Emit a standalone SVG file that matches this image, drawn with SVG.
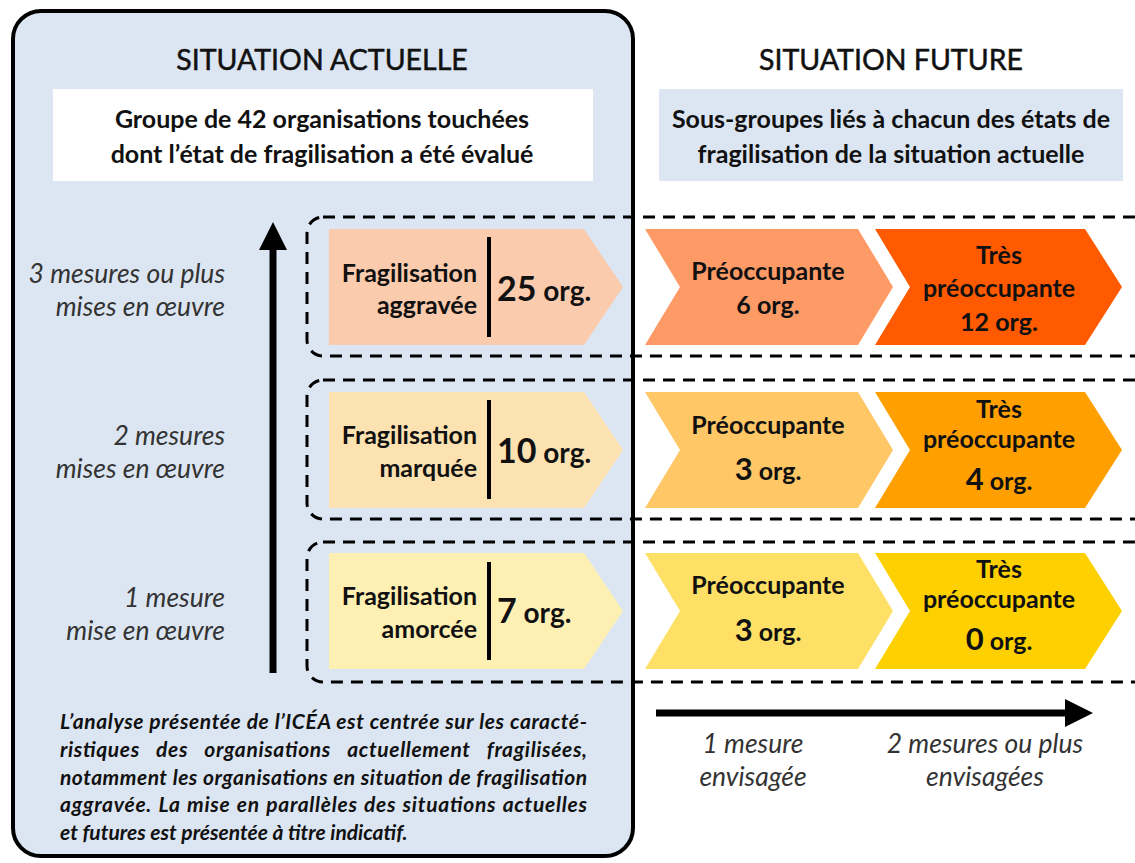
<svg xmlns="http://www.w3.org/2000/svg" width="1135" height="863" viewBox="0 0 1135 863">
<style>
.t{font-family:Lato,"Open Sans","Liberation Sans",sans-serif;fill:#111}
.h{font-size:28.5px;stroke:#111;stroke-width:0.5}
.s{font-size:25px;font-weight:bold}
.n{font-size:25px;font-weight:bold}
.o{font-size:28px}
.big{font-size:34px}
.m{font-size:31px}
.lab{font-size:26.5px;font-style:italic;fill:#333}
.para{font-size:21px;font-style:italic;font-weight:bold}
.dash{fill:none;stroke:#000;stroke-width:3;stroke-dasharray:12 8}
.bar{stroke:#000;stroke-width:4}
</style>
<defs>
<marker id="ah" markerWidth="4" markerHeight="4" refX="1" refY="2" orient="auto" markerUnits="strokeWidth">
<path d="M0,0 L4,2 L0,4 Z" fill="#000"/>
</marker>
</defs>
<rect width="1135" height="863" fill="#fff"/>
<g id="panel-actuelle">
<rect x="13" y="11" width="620" height="845" rx="28" fill="#DCE6F2" stroke="#000" stroke-width="4"/>
<text class="t h" x="322" y="70" text-anchor="middle">SITUATION ACTUELLE</text>
<rect x="53" y="89" width="540" height="92" fill="#fff"/>
<text class="t s" x="322" y="128" text-anchor="middle">Groupe de 42 organisations touchées</text>
<text class="t s" x="322" y="163" text-anchor="middle">dont l’état de fragilisation a été évalué</text>
</g>
<g id="panel-future">
<text class="t h" x="891" y="70" text-anchor="middle">SITUATION FUTURE</text>
<rect x="659" y="89" width="464" height="92" fill="#DCE6F2"/>
<text class="t s" x="891" y="128" text-anchor="middle">Sous-groupes liés à chacun des états de</text>
<text class="t s" x="891" y="163" text-anchor="middle">fragilisation de la situation actuelle</text>
</g>
<g id="groups">
<rect class="dash" x="307" y="217" width="843" height="139" rx="16"/>
<rect class="dash" x="307" y="380" width="843" height="139" rx="16"/>
<rect class="dash" x="307" y="542" width="843" height="140" rx="16"/>
</g>
<g id="connectors">
<line x1="273" y1="673" x2="273" y2="243" stroke="#000" stroke-width="7" marker-end="url(#ah)"/>
<line x1="656" y1="713" x2="1072" y2="713" stroke="#000" stroke-width="7" marker-end="url(#ah)"/>
</g>
<g id="axis-labels">
<text class="t lab" x="225" y="283" text-anchor="end">3 mesures ou plus</text>
<text class="t lab" x="225" y="316" text-anchor="end">mises en œuvre</text>
<text class="t lab" x="225" y="445" text-anchor="end">2 mesures</text>
<text class="t lab" x="225" y="478" text-anchor="end">mises en œuvre</text>
<text class="t lab" x="225" y="607" text-anchor="end">1 mesure</text>
<text class="t lab" x="225" y="640" text-anchor="end">mise en œuvre</text>
<text class="t lab" x="753" y="753" text-anchor="middle">1 mesure</text>
<text class="t lab" x="753" y="786" text-anchor="middle">envisagée</text>
<text class="t lab" x="985" y="753" text-anchor="middle">2 mesures ou plus</text>
<text class="t lab" x="985" y="786" text-anchor="middle">envisagées</text>
</g>
<g id="actuel-aggravee">
<polygon points="329,229 584,229 623,287 584,345 329,345" fill="#FBCBAD"/>
<line class="bar" x1="489" y1="237" x2="489" y2="337"/>
<text class="t n" x="477" y="282" text-anchor="end">Fragilisation</text>
<text class="t n" x="477" y="314" text-anchor="end">aggravée</text>
<text class="t n o" x="497" y="301"><tspan class="big">25</tspan> org.</text>
</g>
<g id="actuel-marquee">
<polygon points="329,392 584,392 623,450 584,508 329,508" fill="#FDE2B1"/>
<line class="bar" x1="489" y1="400" x2="489" y2="499"/>
<text class="t n" x="477" y="444" text-anchor="end">Fragilisation</text>
<text class="t n" x="477" y="477" text-anchor="end">marquée</text>
<text class="t n o" x="497" y="463"><tspan class="big">10</tspan> org.</text>
</g>
<g id="actuel-amorcee">
<polygon points="329,553 584,553 623,611 584,669 329,669" fill="#FEF0B3"/>
<line class="bar" x1="489" y1="562" x2="489" y2="660"/>
<text class="t n" x="477" y="605" text-anchor="end">Fragilisation</text>
<text class="t n" x="477" y="638" text-anchor="end">amorcée</text>
<text class="t n o" x="497" y="623"><tspan class="big">7</tspan> org.</text>
</g>
<g id="futur-1-preoc">
<polygon points="645,229 858,229 893,287 858,345 645,345 680,287" fill="#FD9A66"/>
<text class="t n" x="768" y="280" text-anchor="middle">Préoccupante</text>
<text class="t n" x="768" y="314" text-anchor="middle">6 org.</text>
</g>
<g id="futur-1-tres">
<polygon points="875,229 1085,229 1122,287 1085,345 875,345 910,287" fill="#FF5A00"/>
<text class="t n" x="999" y="264" text-anchor="middle">Très</text>
<text class="t n" x="999" y="297" text-anchor="middle">préoccupante</text>
<text class="t n" x="999" y="331" text-anchor="middle">12 org.</text>
</g>
<g id="futur-2-preoc">
<polygon points="645,392 858,392 893,450 858,508 645,508 680,450" fill="#FFC766"/>
<text class="t n" x="768" y="434" text-anchor="middle">Préoccupante</text>
<text class="t n" x="768" y="480" text-anchor="middle"><tspan class="m">3</tspan> org.</text>
</g>
<g id="futur-2-tres">
<polygon points="875,392 1085,392 1122,450 1085,508 875,508 910,450" fill="#FFA000"/>
<text class="t n" x="999" y="418" text-anchor="middle">Très</text>
<text class="t n" x="999" y="448" text-anchor="middle">préoccupante</text>
<text class="t n" x="999" y="490" text-anchor="middle"><tspan class="m">4</tspan> org.</text>
</g>
<g id="futur-3-preoc">
<polygon points="645,553 858,553 893,611 858,669 645,669 680,611" fill="#FFE066"/>
<text class="t n" x="768" y="594" text-anchor="middle">Préoccupante</text>
<text class="t n" x="768" y="641" text-anchor="middle"><tspan class="m">3</tspan> org.</text>
</g>
<g id="futur-3-tres">
<polygon points="875,553 1085,553 1122,611 1085,669 875,669 910,611" fill="#FFD000"/>
<text class="t n" x="999" y="578" text-anchor="middle">Très</text>
<text class="t n" x="999" y="608" text-anchor="middle">préoccupante</text>
<text class="t n" x="999" y="650" text-anchor="middle"><tspan class="m">0</tspan> org.</text>
</g>
<g id="note">
<text class="t para" x="60" y="729" textLength="527" lengthAdjust="spacing">L’analyse présentée de l’ICÉA est centrée sur les caracté-</text>
<text class="t para" x="60" y="757" word-spacing="11" textLength="527" lengthAdjust="spacing">ristiques des organisations actuellement fragilisées,</text>
<text class="t para" x="60" y="785" textLength="527" lengthAdjust="spacing">notamment les organisations en situation de fragilisation</text>
<text class="t para" x="60" y="812" word-spacing="1" textLength="527" lengthAdjust="spacing">aggravée. La mise en parallèles des situations actuelles</text>
<text class="t para" x="60" y="840">et futures est présentée à titre indicatif.</text>
</g>
</svg>
